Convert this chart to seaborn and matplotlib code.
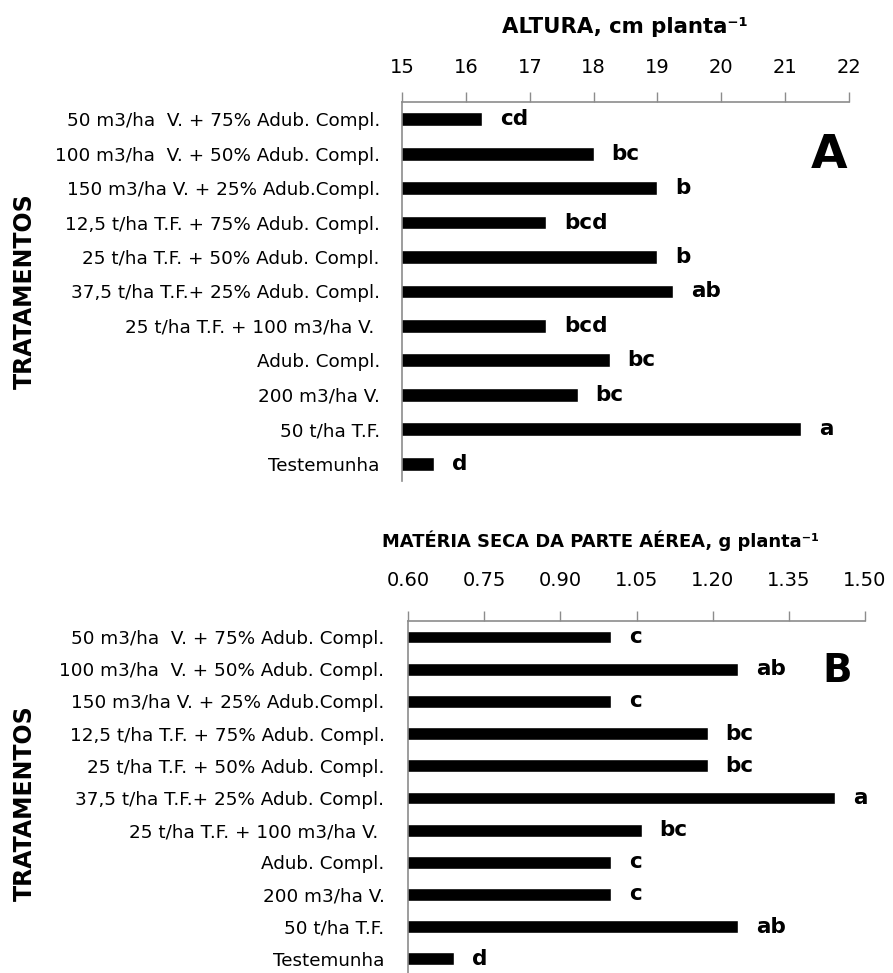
import numpy as np
import seaborn as sns
import matplotlib.pyplot as plt
import pandas as pd

tratamentos = ['50 m3/ha  V. + 75% Adub. Compl.',
               '100 m3/ha  V. + 50% Adub. Compl.',
               '150 m3/ha V. + 25% Adub.Compl.',
               '12,5 t/ha T.F. + 75% Adub. Compl.',
               '25 t/ha T.F. + 50% Adub. Compl.',
               '37,5 t/ha T.F.+ 25% Adub. Compl.',
               '25 t/ha T.F. + 100 m3/ha V. ',
               'Adub. Compl.',
               '200 m3/ha V.',
               '50 t/ha T.F.',
               'Testemunha']

# A: altura (cm planta-1)
altura = [16.25, 18.0, 19.0, 17.25, 19.0, 19.25, 17.25, 18.25, 17.75, 21.25, 15.5]
altura_letras = ['cd', 'bc', 'b', 'bcd', 'b', 'ab', 'bcd', 'bc', 'bc', 'a', 'd']
altura_ticks = [15, 16, 17, 18, 19, 20, 21, 22]

# B: materia seca da parte aerea (g planta-1)
materia_seca = [1.00, 1.25, 1.00, 1.19, 1.19, 1.44, 1.06, 1.00, 1.00, 1.25, 0.69]
ms_letras = ['c', 'ab', 'c', 'bc', 'bc', 'a', 'bc', 'c', 'c', 'ab', 'd']
ms_ticks = [0.60, 0.75, 0.90, 1.05, 1.20, 1.35, 1.50]

FONTES = ['DejaVu Sans']
CINZA = '#8c8c8c'


def painel(ax, valores, letras, ticks, fmt, titulo, titulo_x, titulo_y,
           titulo_fs, pad, ypad):
    df = pd.DataFrame({'trat': tratamentos, 'valor': valores})
    sns.barplot(data=df, x='valor', y='trat', orient='h', color='black',
                width=0.4, saturation=1, ax=ax)
    ax.set_xlim(ticks[0], ticks[-1])
    ax.set_ylim(len(tratamentos) - 0.5, -0.5)

    ax.xaxis.tick_top()
    ax.set_xticks(ticks)
    ax.set_xticklabels([fmt.format(t) for t in ticks], fontsize=14,
                       color='black')
    ax.tick_params(axis='x', direction='out', length=7, width=1,
                   color=CINZA, pad=pad)

    # rótulos no centro, tracinhos nas divisas entre categorias
    ax.set_yticks(range(len(tratamentos)))
    ax.set_yticklabels(tratamentos, fontsize=13.2, color='black')
    ax.set_yticks(np.arange(-0.5, len(tratamentos), 1), minor=True)
    ax.tick_params(axis='y', which='major', length=0, pad=ypad)
    ax.tick_params(axis='y', which='minor', length=6, width=1, color=CINZA)

    for s in ['right', 'bottom']:
        ax.spines[s].set_visible(False)
    for s in ['top', 'left']:
        ax.spines[s].set_color(CINZA)
        ax.spines[s].set_linewidth(1.2)

    ax.set_ylabel('')
    ax.set_xlabel('')
    ax.bar_label(ax.containers[0], labels=letras, padding=13,
                 fontsize=15.5, fontweight='bold', color='black')

    fig.text(titulo_x, titulo_y, titulo, ha='center', va='center',
             fontsize=titulo_fs, fontweight='bold', color='black')


sns.set_theme(style='white')
plt.rcParams['font.family'] = FONTES
plt.rcParams['text.color'] = 'black'

fig = plt.figure(figsize=(8.93, 9.73), dpi=100)
ax1 = fig.add_axes([0.4502, 0.5057, 0.5006, 0.3895])
ax2 = fig.add_axes([0.4569, -0.002, 0.5118, 0.3638])

painel(ax1, altura, altura_letras, altura_ticks, '{:.0f}',
       'ALTURA, cm planta⁻¹', 625 / 893, 1 - 27 / 973, 15.3, 11, 16)
painel(ax2, materia_seca, ms_letras, ms_ticks, '{:.2f}',
       'MATÉRIA SECA DA PARTE AÉREA, g planta⁻¹', 600 / 893, 1 - 541 / 973,
       12.9, 15, 17)

ax1.text(0.955, 0.86, 'A', transform=ax1.transAxes, ha='center', va='center',
         fontsize=34, fontweight='bold', color='black')
ax2.text(0.94, 0.86, 'B', transform=ax2.transAxes, ha='center', va='center',
         fontsize=28, fontweight='bold', color='black')

fig.text(25 / 893, 1 - 291 / 973, 'TRATAMENTOS', rotation=90, ha='center',
         va='center', fontsize=17, fontweight='bold', color='black')
fig.text(25 / 893, 1 - 803 / 973, 'TRATAMENTOS', rotation=90, ha='center',
         va='center', fontsize=17, fontweight='bold', color='black')

fig.savefig('out.png', dpi=100)
